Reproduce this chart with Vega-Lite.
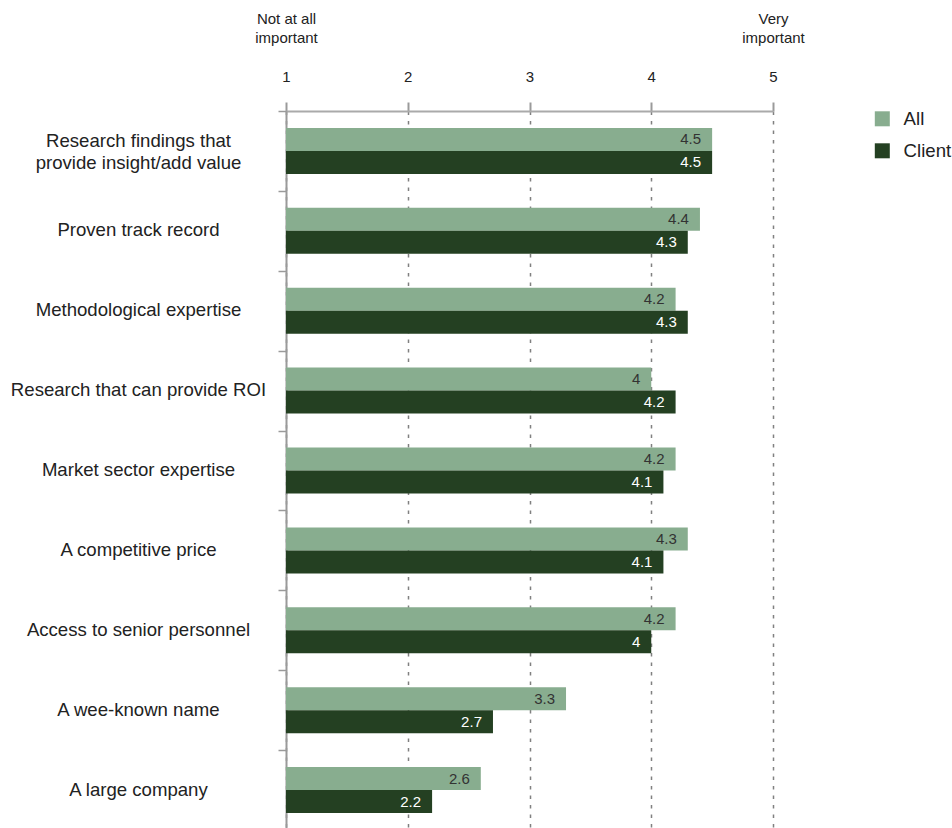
{
  "$schema": "https://vega.github.io/schema/vega-lite/v6.json",
  "width": 487,
  "height": 719,
  "autosize": {"type": "none"},
  "padding": {"left": 286, "top": 111, "right": 179, "bottom": 0},
  "background": "white",
  "config": {
    "font": "Liberation Sans",
    "view": {"stroke": null}
  },
  "data": {
    "values": [
      {"factor": "Research findings that|provide insight/add value", "series": "All", "score": 4.5},
      {"factor": "Research findings that|provide insight/add value", "series": "Client", "score": 4.5},
      {"factor": "Proven track record", "series": "All", "score": 4.4},
      {"factor": "Proven track record", "series": "Client", "score": 4.3},
      {"factor": "Methodological expertise", "series": "All", "score": 4.2},
      {"factor": "Methodological expertise", "series": "Client", "score": 4.3},
      {"factor": "Research that can provide ROI", "series": "All", "score": 4},
      {"factor": "Research that can provide ROI", "series": "Client", "score": 4.2},
      {"factor": "Market sector expertise", "series": "All", "score": 4.2},
      {"factor": "Market sector expertise", "series": "Client", "score": 4.1},
      {"factor": "A competitive price", "series": "All", "score": 4.3},
      {"factor": "A competitive price", "series": "Client", "score": 4.1},
      {"factor": "Access to senior personnel", "series": "All", "score": 4.2},
      {"factor": "Access to senior personnel", "series": "Client", "score": 4},
      {"factor": "A wee-known name", "series": "All", "score": 3.3},
      {"factor": "A wee-known name", "series": "Client", "score": 2.7},
      {"factor": "A large company", "series": "All", "score": 2.6},
      {"factor": "A large company", "series": "Client", "score": 2.2}
    ]
  },
  "encoding": {
    "y": {
      "field": "factor",
      "type": "nominal",
      "sort": null,
      "scale": {"paddingInner": 0, "paddingOuter": 0},
      "axis": {
        "title": null,
        "tickBand": "extent",
        "labelExpr": "isValid(datum.value) ? split(datum.value, '|') : ''",
        "labelAlign": "center",
        "labelBaseline": "middle",
        "labelOffset": {"condition": {"test": "isValid(datum.value) && indexof(datum.value, '|') >= 0", "value": -10}, "value": -1},
        "labelPadding": 140,
        "labelFontSize": 18.6,
        "labelLineHeight": 21.5,
        "labelColor": "#222222",
        "labelLimit": 400,
        "tickSize": 8,
        "tickColor": "#9a9a9a",
        "tickWidth": 1.5,
        "domainColor": "#9a9a9a",
        "domainWidth": 2,
        "grid": false
      }
    },
    "yOffset": {
      "field": "series",
      "type": "nominal",
      "sort": ["All", "Client"],
      "scale": {"paddingInner": 0, "paddingOuter": 0.737}
    },
    "x": {
      "field": "score",
      "type": "quantitative",
      "scale": {"domain": [1, 5], "zero": false, "nice": false},
      "axis": {
        "orient": "top",
        "title": null,
        "values": [1, 2, 3, 4, 5],
        "labelExpr": "datum.value == 1 ? ['Not at all', 'important', '\u2800', '1'] : datum.value == 5 ? ['Very', 'important', '\u2800', '5'] : ['\u2800', '\u2800', '\u2800', format(datum.value, 'd')]",
        "labelFlush": false,
        "labelOverlap": false,
        "labelFontSize": 15,
        "labelLineHeight": 19.5,
        "labelColor": "#222222",
        "labelPadding": 76,
        "tickSize": 9,
        "tickColor": "#9a9a9a",
        "tickWidth": 2,
        "domainColor": "#aaaaaa",
        "domainWidth": 2,
        "grid": true,
        "gridColor": "#808080",
        "gridDash": [3.5, 6],
        "gridWidth": 1.5
      }
    }
  },
  "layer": [
    {
      "mark": {"type": "bar"},
      "encoding": {
        "x2": {"datum": 1},
        "color": {
          "field": "series",
          "type": "nominal",
          "scale": {"domain": ["All", "Client"], "range": ["#88ad8f", "#244022"]},
          "legend": {
            "title": null,
            "orient": "none",
            "legendX": 587,
            "legendY": -1.5,
            "padding": 0,
            "symbolType": "square",
            "symbolSize": 225,
            "symbolStrokeWidth": 0,
            "symbolOpacity": 1,
            "labelFontSize": 18.6,
            "labelColor": "#222222",
            "labelOffset": 12,
            "rowPadding": 13
          }
        }
      }
    },
    {
      "mark": {"type": "text", "align": "right", "baseline": "middle", "dx": -11, "fontSize": 15},
      "encoding": {
        "text": {"field": "score", "type": "quantitative", "format": "~g"},
        "color": {
          "condition": {"test": "datum.series === 'Client'", "value": "#ffffff"},
          "value": "#333333"
        }
      }
    }
  ]
}
